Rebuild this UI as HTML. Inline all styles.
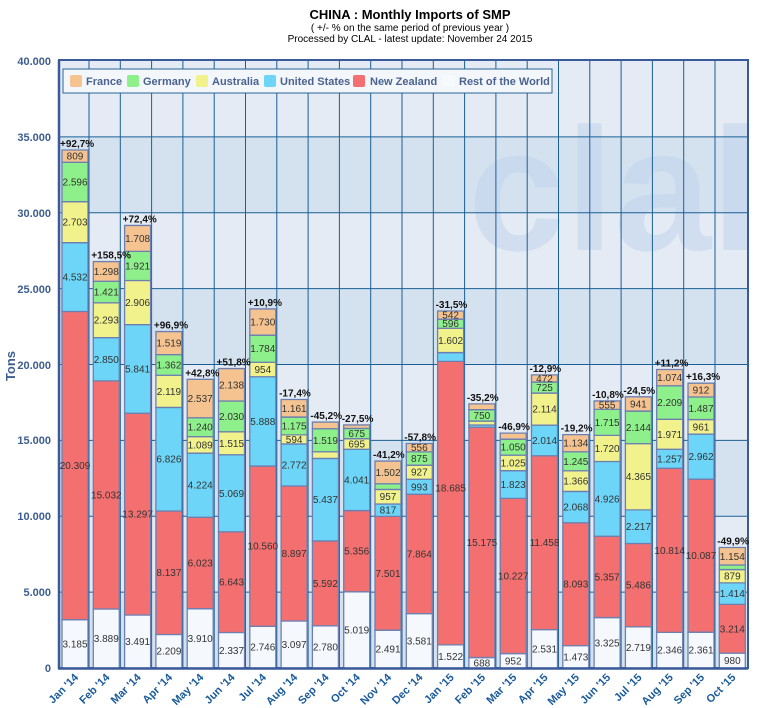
<!DOCTYPE html>
<html><head><meta charset="utf-8"><style>
html,body{margin:0;padding:0;background:#fff;width:760px;height:708px;overflow:hidden}
svg{display:block;font-family:"Liberation Sans",sans-serif}
.v{font-size:10px;fill:#333;text-anchor:middle}
.p{font-size:10px;font-weight:bold;fill:#111}
.yl{font-size:11px;font-weight:bold;fill:#3d5c8f;text-anchor:end}
.xl{font-size:11px;font-weight:bold;fill:#1a5a9a;text-anchor:end}
.lg{font-size:11px;font-weight:bold;fill:#4a6390}
</style></head><body>
<svg width="760" height="708" viewBox="0 0 760 708">
<defs><clipPath id="pc"><rect x="59" y="61" width="689" height="607"/></clipPath></defs>
<text x="410" y="19" text-anchor="middle" font-size="13" font-weight="bold" fill="#000">CHINA : Monthly Imports of SMP</text>
<text x="410" y="31" text-anchor="middle" font-size="10" fill="#000">( +/- % on the same period of previous year )</text>
<text x="410" y="42" text-anchor="middle" font-size="10" fill="#000">Processed by CLAL - latest update: November 24 2015</text>

<rect x="59" y="61" width="689" height="607" fill="#e4ebf5"/>
<rect x="59" y="136.9" width="689" height="75.9" fill="#d4e2f0"/>
<rect x="59" y="288.6" width="689" height="75.9" fill="#d4e2f0"/>
<rect x="59" y="440.4" width="689" height="75.9" fill="#d4e2f0"/>
<rect x="59" y="592.1" width="689" height="75.9" fill="#d4e2f0"/>
<g clip-path="url(#pc)"><text x="468" y="250" font-size="175" font-weight="bold" fill="#c5d6ee" opacity="0.6">clal</text></g>
<g stroke="#1a5f96" stroke-width="1">
<line x1="59" x2="748" y1="592.1" y2="592.1"/><line x1="59" x2="748" y1="516.3" y2="516.3"/>
<line x1="59" x2="748" y1="440.4" y2="440.4"/><line x1="59" x2="748" y1="364.5" y2="364.5"/>
<line x1="59" x2="748" y1="288.6" y2="288.6"/><line x1="59" x2="748" y1="212.8" y2="212.8"/>
<line x1="59" x2="748" y1="136.9" y2="136.9"/>
<line x1="89" x2="89" y1="61" y2="668"/><line x1="120.3" x2="120.3" y1="61" y2="668"/><line x1="151.6" x2="151.6" y1="61" y2="668"/><line x1="182.9" x2="182.9" y1="61" y2="668"/><line x1="214.2" x2="214.2" y1="61" y2="668"/><line x1="245.5" x2="245.5" y1="61" y2="668"/><line x1="276.8" x2="276.8" y1="61" y2="668"/><line x1="308.1" x2="308.1" y1="61" y2="668"/><line x1="339.4" x2="339.4" y1="61" y2="668"/><line x1="370.7" x2="370.7" y1="61" y2="668"/><line x1="402" x2="402" y1="61" y2="668"/><line x1="433.3" x2="433.3" y1="61" y2="668"/><line x1="464.6" x2="464.6" y1="61" y2="668"/><line x1="495.9" x2="495.9" y1="61" y2="668"/><line x1="527.2" x2="527.2" y1="61" y2="668"/><line x1="558.5" x2="558.5" y1="61" y2="668"/><line x1="589.8" x2="589.8" y1="61" y2="668"/><line x1="621.1" x2="621.1" y1="61" y2="668"/><line x1="652.4" x2="652.4" y1="61" y2="668"/><line x1="683.7" x2="683.7" y1="61" y2="668"/><line x1="715" x2="715" y1="61" y2="668"/>
</g>
<rect x="59" y="60" width="689" height="608" fill="none" stroke="#3a5a9a" stroke-width="2"/>

<rect x="63" y="69" width="489" height="24" fill="#f3f6fa" stroke="#2a6496" stroke-width="1"/>
<rect x="70" y="75" width="12" height="12" rx="2" fill="#f5c38f"/><text class="lg" x="86" y="85">France</text>
<rect x="127" y="75" width="12" height="12" rx="2" fill="#8ef08a"/><text class="lg" x="143" y="85">Germany</text>
<rect x="196" y="75" width="12" height="12" rx="2" fill="#f2f28c"/><text class="lg" x="212" y="85">Australia</text>
<rect x="264" y="75" width="12" height="12" rx="2" fill="#6dd5f7"/><text class="lg" x="280" y="85">United States</text>
<rect x="353" y="75" width="12" height="12" rx="2" fill="#f47070"/><text class="lg" x="370" y="85">New Zealand</text>
<rect x="443" y="75" width="12" height="12" rx="2" fill="#f7fafd"/><text class="lg" x="459" y="85">Rest of the World</text>

<g transform="translate(0,668) scale(1,-0.015175)">
<g stroke="#6d7fb0" stroke-width="1.3">
<rect x="62" y="0" width="26" height="3185" fill="#f5f9fd" vector-effect="non-scaling-stroke"/>
<rect x="62" y="3185" width="26" height="20309" fill="#f47070" vector-effect="non-scaling-stroke"/>
<rect x="62" y="23494" width="26" height="4532" fill="#6dd5f7" vector-effect="non-scaling-stroke"/>
<rect x="62" y="28026" width="26" height="2703" fill="#f2f28c" vector-effect="non-scaling-stroke"/>
<rect x="62" y="30729" width="26" height="2596" fill="#8ef08a" vector-effect="non-scaling-stroke"/>
<rect x="62" y="33325" width="26" height="809" fill="#f5c38f" vector-effect="non-scaling-stroke"/>
<rect x="93.3" y="0" width="26" height="3889" fill="#f5f9fd" vector-effect="non-scaling-stroke"/>
<rect x="93.3" y="3889" width="26" height="15032" fill="#f47070" vector-effect="non-scaling-stroke"/>
<rect x="93.3" y="18921" width="26" height="2850" fill="#6dd5f7" vector-effect="non-scaling-stroke"/>
<rect x="93.3" y="21771" width="26" height="2293" fill="#f2f28c" vector-effect="non-scaling-stroke"/>
<rect x="93.3" y="24064" width="26" height="1421" fill="#8ef08a" vector-effect="non-scaling-stroke"/>
<rect x="93.3" y="25485" width="26" height="1298" fill="#f5c38f" vector-effect="non-scaling-stroke"/>
<rect x="124.6" y="0" width="26" height="3491" fill="#f5f9fd" vector-effect="non-scaling-stroke"/>
<rect x="124.6" y="3491" width="26" height="13297" fill="#f47070" vector-effect="non-scaling-stroke"/>
<rect x="124.6" y="16788" width="26" height="5841" fill="#6dd5f7" vector-effect="non-scaling-stroke"/>
<rect x="124.6" y="22629" width="26" height="2906" fill="#f2f28c" vector-effect="non-scaling-stroke"/>
<rect x="124.6" y="25535" width="26" height="1921" fill="#8ef08a" vector-effect="non-scaling-stroke"/>
<rect x="124.6" y="27456" width="26" height="1708" fill="#f5c38f" vector-effect="non-scaling-stroke"/>
<rect x="155.9" y="0" width="26" height="2209" fill="#f5f9fd" vector-effect="non-scaling-stroke"/>
<rect x="155.9" y="2209" width="26" height="8137" fill="#f47070" vector-effect="non-scaling-stroke"/>
<rect x="155.9" y="10346" width="26" height="6826" fill="#6dd5f7" vector-effect="non-scaling-stroke"/>
<rect x="155.9" y="17172" width="26" height="2119" fill="#f2f28c" vector-effect="non-scaling-stroke"/>
<rect x="155.9" y="19291" width="26" height="1362" fill="#8ef08a" vector-effect="non-scaling-stroke"/>
<rect x="155.9" y="20653" width="26" height="1519" fill="#f5c38f" vector-effect="non-scaling-stroke"/>
<rect x="187.2" y="0" width="26" height="3910" fill="#f5f9fd" vector-effect="non-scaling-stroke"/>
<rect x="187.2" y="3910" width="26" height="6023" fill="#f47070" vector-effect="non-scaling-stroke"/>
<rect x="187.2" y="9933" width="26" height="4224" fill="#6dd5f7" vector-effect="non-scaling-stroke"/>
<rect x="187.2" y="14157" width="26" height="1089" fill="#f2f28c" vector-effect="non-scaling-stroke"/>
<rect x="187.2" y="15246" width="26" height="1240" fill="#8ef08a" vector-effect="non-scaling-stroke"/>
<rect x="187.2" y="16486" width="26" height="2537" fill="#f5c38f" vector-effect="non-scaling-stroke"/>
<rect x="218.5" y="0" width="26" height="2337" fill="#f5f9fd" vector-effect="non-scaling-stroke"/>
<rect x="218.5" y="2337" width="26" height="6643" fill="#f47070" vector-effect="non-scaling-stroke"/>
<rect x="218.5" y="8980" width="26" height="5069" fill="#6dd5f7" vector-effect="non-scaling-stroke"/>
<rect x="218.5" y="14049" width="26" height="1515" fill="#f2f28c" vector-effect="non-scaling-stroke"/>
<rect x="218.5" y="15564" width="26" height="2030" fill="#8ef08a" vector-effect="non-scaling-stroke"/>
<rect x="218.5" y="17594" width="26" height="2138" fill="#f5c38f" vector-effect="non-scaling-stroke"/>
<rect x="249.8" y="0" width="26" height="2746" fill="#f5f9fd" vector-effect="non-scaling-stroke"/>
<rect x="249.8" y="2746" width="26" height="10560" fill="#f47070" vector-effect="non-scaling-stroke"/>
<rect x="249.8" y="13306" width="26" height="5888" fill="#6dd5f7" vector-effect="non-scaling-stroke"/>
<rect x="249.8" y="19194" width="26" height="954" fill="#f2f28c" vector-effect="non-scaling-stroke"/>
<rect x="249.8" y="20148" width="26" height="1784" fill="#8ef08a" vector-effect="non-scaling-stroke"/>
<rect x="249.8" y="21932" width="26" height="1730" fill="#f5c38f" vector-effect="non-scaling-stroke"/>
<rect x="281.1" y="0" width="26" height="3097" fill="#f5f9fd" vector-effect="non-scaling-stroke"/>
<rect x="281.1" y="3097" width="26" height="8897" fill="#f47070" vector-effect="non-scaling-stroke"/>
<rect x="281.1" y="11994" width="26" height="2772" fill="#6dd5f7" vector-effect="non-scaling-stroke"/>
<rect x="281.1" y="14766" width="26" height="594" fill="#f2f28c" vector-effect="non-scaling-stroke"/>
<rect x="281.1" y="15360" width="26" height="1175" fill="#8ef08a" vector-effect="non-scaling-stroke"/>
<rect x="281.1" y="16535" width="26" height="1161" fill="#f5c38f" vector-effect="non-scaling-stroke"/>
<rect x="312.4" y="0" width="26" height="2780" fill="#f5f9fd" vector-effect="non-scaling-stroke"/>
<rect x="312.4" y="2780" width="26" height="5592" fill="#f47070" vector-effect="non-scaling-stroke"/>
<rect x="312.4" y="8372" width="26" height="5437" fill="#6dd5f7" vector-effect="non-scaling-stroke"/>
<rect x="312.4" y="13809" width="26" height="440" fill="#f2f28c" vector-effect="non-scaling-stroke"/>
<rect x="312.4" y="14249" width="26" height="1519" fill="#8ef08a" vector-effect="non-scaling-stroke"/>
<rect x="312.4" y="15768" width="26" height="440" fill="#f5c38f" vector-effect="non-scaling-stroke"/>
<rect x="343.7" y="0" width="26" height="5019" fill="#f5f9fd" vector-effect="non-scaling-stroke"/>
<rect x="343.7" y="5019" width="26" height="5356" fill="#f47070" vector-effect="non-scaling-stroke"/>
<rect x="343.7" y="10375" width="26" height="4041" fill="#6dd5f7" vector-effect="non-scaling-stroke"/>
<rect x="343.7" y="14416" width="26" height="695" fill="#f2f28c" vector-effect="non-scaling-stroke"/>
<rect x="343.7" y="15111" width="26" height="675" fill="#8ef08a" vector-effect="non-scaling-stroke"/>
<rect x="343.7" y="15786" width="26" height="230" fill="#f5c38f" vector-effect="non-scaling-stroke"/>
<rect x="375" y="0" width="26" height="2491" fill="#f5f9fd" vector-effect="non-scaling-stroke"/>
<rect x="375" y="2491" width="26" height="7501" fill="#f47070" vector-effect="non-scaling-stroke"/>
<rect x="375" y="9992" width="26" height="817" fill="#6dd5f7" vector-effect="non-scaling-stroke"/>
<rect x="375" y="10809" width="26" height="957" fill="#f2f28c" vector-effect="non-scaling-stroke"/>
<rect x="375" y="11766" width="26" height="370" fill="#8ef08a" vector-effect="non-scaling-stroke"/>
<rect x="375" y="12136" width="26" height="1502" fill="#f5c38f" vector-effect="non-scaling-stroke"/>
<rect x="406.3" y="0" width="26" height="3581" fill="#f5f9fd" vector-effect="non-scaling-stroke"/>
<rect x="406.3" y="3581" width="26" height="7864" fill="#f47070" vector-effect="non-scaling-stroke"/>
<rect x="406.3" y="11445" width="26" height="993" fill="#6dd5f7" vector-effect="non-scaling-stroke"/>
<rect x="406.3" y="12438" width="26" height="927" fill="#f2f28c" vector-effect="non-scaling-stroke"/>
<rect x="406.3" y="13365" width="26" height="875" fill="#8ef08a" vector-effect="non-scaling-stroke"/>
<rect x="406.3" y="14240" width="26" height="556" fill="#f5c38f" vector-effect="non-scaling-stroke"/>
<rect x="437.6" y="0" width="26" height="1522" fill="#f5f9fd" vector-effect="non-scaling-stroke"/>
<rect x="437.6" y="1522" width="26" height="18685" fill="#f47070" vector-effect="non-scaling-stroke"/>
<rect x="437.6" y="20207" width="26" height="580" fill="#6dd5f7" vector-effect="non-scaling-stroke"/>
<rect x="437.6" y="20787" width="26" height="1602" fill="#f2f28c" vector-effect="non-scaling-stroke"/>
<rect x="437.6" y="22389" width="26" height="596" fill="#8ef08a" vector-effect="non-scaling-stroke"/>
<rect x="437.6" y="22985" width="26" height="542" fill="#f5c38f" vector-effect="non-scaling-stroke"/>
<rect x="468.9" y="0" width="26" height="688" fill="#f5f9fd" vector-effect="non-scaling-stroke"/>
<rect x="468.9" y="688" width="26" height="15175" fill="#f47070" vector-effect="non-scaling-stroke"/>
<rect x="468.9" y="15863" width="26" height="150" fill="#6dd5f7" vector-effect="non-scaling-stroke"/>
<rect x="468.9" y="16013" width="26" height="260" fill="#f2f28c" vector-effect="non-scaling-stroke"/>
<rect x="468.9" y="16273" width="26" height="750" fill="#8ef08a" vector-effect="non-scaling-stroke"/>
<rect x="468.9" y="17023" width="26" height="380" fill="#f5c38f" vector-effect="non-scaling-stroke"/>
<rect x="500.2" y="0" width="26" height="952" fill="#f5f9fd" vector-effect="non-scaling-stroke"/>
<rect x="500.2" y="952" width="26" height="10227" fill="#f47070" vector-effect="non-scaling-stroke"/>
<rect x="500.2" y="11179" width="26" height="1823" fill="#6dd5f7" vector-effect="non-scaling-stroke"/>
<rect x="500.2" y="13002" width="26" height="1025" fill="#f2f28c" vector-effect="non-scaling-stroke"/>
<rect x="500.2" y="14027" width="26" height="1050" fill="#8ef08a" vector-effect="non-scaling-stroke"/>
<rect x="500.2" y="15077" width="26" height="400" fill="#f5c38f" vector-effect="non-scaling-stroke"/>
<rect x="531.5" y="0" width="26" height="2531" fill="#f5f9fd" vector-effect="non-scaling-stroke"/>
<rect x="531.5" y="2531" width="26" height="11458" fill="#f47070" vector-effect="non-scaling-stroke"/>
<rect x="531.5" y="13989" width="26" height="2014" fill="#6dd5f7" vector-effect="non-scaling-stroke"/>
<rect x="531.5" y="16003" width="26" height="2114" fill="#f2f28c" vector-effect="non-scaling-stroke"/>
<rect x="531.5" y="18117" width="26" height="725" fill="#8ef08a" vector-effect="non-scaling-stroke"/>
<rect x="531.5" y="18842" width="26" height="472" fill="#f5c38f" vector-effect="non-scaling-stroke"/>
<rect x="562.8" y="0" width="26" height="1473" fill="#f5f9fd" vector-effect="non-scaling-stroke"/>
<rect x="562.8" y="1473" width="26" height="8093" fill="#f47070" vector-effect="non-scaling-stroke"/>
<rect x="562.8" y="9566" width="26" height="2068" fill="#6dd5f7" vector-effect="non-scaling-stroke"/>
<rect x="562.8" y="11634" width="26" height="1366" fill="#f2f28c" vector-effect="non-scaling-stroke"/>
<rect x="562.8" y="13000" width="26" height="1245" fill="#8ef08a" vector-effect="non-scaling-stroke"/>
<rect x="562.8" y="14245" width="26" height="1134" fill="#f5c38f" vector-effect="non-scaling-stroke"/>
<rect x="594.1" y="0" width="26" height="3325" fill="#f5f9fd" vector-effect="non-scaling-stroke"/>
<rect x="594.1" y="3325" width="26" height="5357" fill="#f47070" vector-effect="non-scaling-stroke"/>
<rect x="594.1" y="8682" width="26" height="4926" fill="#6dd5f7" vector-effect="non-scaling-stroke"/>
<rect x="594.1" y="13608" width="26" height="1720" fill="#f2f28c" vector-effect="non-scaling-stroke"/>
<rect x="594.1" y="15328" width="26" height="1715" fill="#8ef08a" vector-effect="non-scaling-stroke"/>
<rect x="594.1" y="17043" width="26" height="555" fill="#f5c38f" vector-effect="non-scaling-stroke"/>
<rect x="625.4" y="0" width="26" height="2719" fill="#f5f9fd" vector-effect="non-scaling-stroke"/>
<rect x="625.4" y="2719" width="26" height="5486" fill="#f47070" vector-effect="non-scaling-stroke"/>
<rect x="625.4" y="8205" width="26" height="2217" fill="#6dd5f7" vector-effect="non-scaling-stroke"/>
<rect x="625.4" y="10422" width="26" height="4365" fill="#f2f28c" vector-effect="non-scaling-stroke"/>
<rect x="625.4" y="14787" width="26" height="2144" fill="#8ef08a" vector-effect="non-scaling-stroke"/>
<rect x="625.4" y="16931" width="26" height="941" fill="#f5c38f" vector-effect="non-scaling-stroke"/>
<rect x="656.7" y="0" width="26" height="2346" fill="#f5f9fd" vector-effect="non-scaling-stroke"/>
<rect x="656.7" y="2346" width="26" height="10814" fill="#f47070" vector-effect="non-scaling-stroke"/>
<rect x="656.7" y="13160" width="26" height="1257" fill="#6dd5f7" vector-effect="non-scaling-stroke"/>
<rect x="656.7" y="14417" width="26" height="1971" fill="#f2f28c" vector-effect="non-scaling-stroke"/>
<rect x="656.7" y="16388" width="26" height="2209" fill="#8ef08a" vector-effect="non-scaling-stroke"/>
<rect x="656.7" y="18597" width="26" height="1074" fill="#f5c38f" vector-effect="non-scaling-stroke"/>
<rect x="688" y="0" width="26" height="2361" fill="#f5f9fd" vector-effect="non-scaling-stroke"/>
<rect x="688" y="2361" width="26" height="10087" fill="#f47070" vector-effect="non-scaling-stroke"/>
<rect x="688" y="12448" width="26" height="2962" fill="#6dd5f7" vector-effect="non-scaling-stroke"/>
<rect x="688" y="15410" width="26" height="961" fill="#f2f28c" vector-effect="non-scaling-stroke"/>
<rect x="688" y="16371" width="26" height="1487" fill="#8ef08a" vector-effect="non-scaling-stroke"/>
<rect x="688" y="17858" width="26" height="912" fill="#f5c38f" vector-effect="non-scaling-stroke"/>
<rect x="719.3" y="0" width="26" height="980" fill="#f5f9fd" vector-effect="non-scaling-stroke"/>
<rect x="719.3" y="980" width="26" height="3214" fill="#f47070" vector-effect="non-scaling-stroke"/>
<rect x="719.3" y="4194" width="26" height="1414" fill="#6dd5f7" vector-effect="non-scaling-stroke"/>
<rect x="719.3" y="5608" width="26" height="879" fill="#f2f28c" vector-effect="non-scaling-stroke"/>
<rect x="719.3" y="6487" width="26" height="300" fill="#8ef08a" vector-effect="non-scaling-stroke"/>
<rect x="719.3" y="6787" width="26" height="1154" fill="#f5c38f" vector-effect="non-scaling-stroke"/>
</g>

<g class="v">
<text transform="translate(75,1593) scale(1,-65.898)" y="3.5">3.185</text>
<text transform="translate(75,13340) scale(1,-65.898)" y="3.5">20.309</text>
<text transform="translate(75,25760) scale(1,-65.898)" y="3.5">4.532</text>
<text transform="translate(75,29378) scale(1,-65.898)" y="3.5">2.703</text>
<text transform="translate(75,32027) scale(1,-65.898)" y="3.5">2.596</text>
<text transform="translate(75,33730) scale(1,-65.898)" y="3.5">809</text>
<text transform="translate(106.3,1945) scale(1,-65.898)" y="3.5">3.889</text>
<text transform="translate(106.3,11405) scale(1,-65.898)" y="3.5">15.032</text>
<text transform="translate(106.3,20346) scale(1,-65.898)" y="3.5">2.850</text>
<text transform="translate(106.3,22918) scale(1,-65.898)" y="3.5">2.293</text>
<text transform="translate(106.3,24775) scale(1,-65.898)" y="3.5">1.421</text>
<text transform="translate(106.3,26134) scale(1,-65.898)" y="3.5">1.298</text>
<text transform="translate(137.6,1746) scale(1,-65.898)" y="3.5">3.491</text>
<text transform="translate(137.6,10140) scale(1,-65.898)" y="3.5">13.297</text>
<text transform="translate(137.6,19709) scale(1,-65.898)" y="3.5">5.841</text>
<text transform="translate(137.6,24082) scale(1,-65.898)" y="3.5">2.906</text>
<text transform="translate(137.6,26496) scale(1,-65.898)" y="3.5">1.921</text>
<text transform="translate(137.6,28310) scale(1,-65.898)" y="3.5">1.708</text>
<text transform="translate(168.9,1105) scale(1,-65.898)" y="3.5">2.209</text>
<text transform="translate(168.9,6278) scale(1,-65.898)" y="3.5">8.137</text>
<text transform="translate(168.9,13759) scale(1,-65.898)" y="3.5">6.826</text>
<text transform="translate(168.9,18232) scale(1,-65.898)" y="3.5">2.119</text>
<text transform="translate(168.9,19972) scale(1,-65.898)" y="3.5">1.362</text>
<text transform="translate(168.9,21413) scale(1,-65.898)" y="3.5">1.519</text>
<text transform="translate(200.2,1955) scale(1,-65.898)" y="3.5">3.910</text>
<text transform="translate(200.2,6922) scale(1,-65.898)" y="3.5">6.023</text>
<text transform="translate(200.2,12045) scale(1,-65.898)" y="3.5">4.224</text>
<text transform="translate(200.2,14702) scale(1,-65.898)" y="3.5">1.089</text>
<text transform="translate(200.2,15866) scale(1,-65.898)" y="3.5">1.240</text>
<text transform="translate(200.2,17755) scale(1,-65.898)" y="3.5">2.537</text>
<text transform="translate(231.5,1169) scale(1,-65.898)" y="3.5">2.337</text>
<text transform="translate(231.5,5659) scale(1,-65.898)" y="3.5">6.643</text>
<text transform="translate(231.5,11515) scale(1,-65.898)" y="3.5">5.069</text>
<text transform="translate(231.5,14807) scale(1,-65.898)" y="3.5">1.515</text>
<text transform="translate(231.5,16579) scale(1,-65.898)" y="3.5">2.030</text>
<text transform="translate(231.5,18663) scale(1,-65.898)" y="3.5">2.138</text>
<text transform="translate(262.8,1373) scale(1,-65.898)" y="3.5">2.746</text>
<text transform="translate(262.8,8026) scale(1,-65.898)" y="3.5">10.560</text>
<text transform="translate(262.8,16250) scale(1,-65.898)" y="3.5">5.888</text>
<text transform="translate(262.8,19671) scale(1,-65.898)" y="3.5">954</text>
<text transform="translate(262.8,21040) scale(1,-65.898)" y="3.5">1.784</text>
<text transform="translate(262.8,22797) scale(1,-65.898)" y="3.5">1.730</text>
<text transform="translate(294.1,1549) scale(1,-65.898)" y="3.5">3.097</text>
<text transform="translate(294.1,7546) scale(1,-65.898)" y="3.5">8.897</text>
<text transform="translate(294.1,13380) scale(1,-65.898)" y="3.5">2.772</text>
<text transform="translate(294.1,15063) scale(1,-65.898)" y="3.5">594</text>
<text transform="translate(294.1,15948) scale(1,-65.898)" y="3.5">1.175</text>
<text transform="translate(294.1,17116) scale(1,-65.898)" y="3.5">1.161</text>
<text transform="translate(325.4,1390) scale(1,-65.898)" y="3.5">2.780</text>
<text transform="translate(325.4,5576) scale(1,-65.898)" y="3.5">5.592</text>
<text transform="translate(325.4,11091) scale(1,-65.898)" y="3.5">5.437</text>
<text transform="translate(325.4,15009) scale(1,-65.898)" y="3.5">1.519</text>
<text transform="translate(356.7,2510) scale(1,-65.898)" y="3.5">5.019</text>
<text transform="translate(356.7,7697) scale(1,-65.898)" y="3.5">5.356</text>
<text transform="translate(356.7,12396) scale(1,-65.898)" y="3.5">4.041</text>
<text transform="translate(356.7,14764) scale(1,-65.898)" y="3.5">695</text>
<text transform="translate(356.7,15449) scale(1,-65.898)" y="3.5">675</text>
<text transform="translate(388,1246) scale(1,-65.898)" y="3.5">2.491</text>
<text transform="translate(388,6242) scale(1,-65.898)" y="3.5">7.501</text>
<text transform="translate(388,10401) scale(1,-65.898)" y="3.5">817</text>
<text transform="translate(388,11288) scale(1,-65.898)" y="3.5">957</text>
<text transform="translate(388,12887) scale(1,-65.898)" y="3.5">1.502</text>
<text transform="translate(419.3,1791) scale(1,-65.898)" y="3.5">3.581</text>
<text transform="translate(419.3,7513) scale(1,-65.898)" y="3.5">7.864</text>
<text transform="translate(419.3,11942) scale(1,-65.898)" y="3.5">993</text>
<text transform="translate(419.3,12902) scale(1,-65.898)" y="3.5">927</text>
<text transform="translate(419.3,13803) scale(1,-65.898)" y="3.5">875</text>
<text transform="translate(419.3,14518) scale(1,-65.898)" y="3.5">556</text>
<text transform="translate(450.6,761) scale(1,-65.898)" y="3.5">1.522</text>
<text transform="translate(450.6,11865) scale(1,-65.898)" y="3.5">18.685</text>
<text transform="translate(450.6,21588) scale(1,-65.898)" y="3.5">1.602</text>
<text transform="translate(450.6,22687) scale(1,-65.898)" y="3.5">596</text>
<text transform="translate(450.6,23256) scale(1,-65.898)" y="3.5">542</text>
<text transform="translate(481.9,344) scale(1,-65.898)" y="3.5">688</text>
<text transform="translate(481.9,8276) scale(1,-65.898)" y="3.5">15.175</text>
<text transform="translate(481.9,16648) scale(1,-65.898)" y="3.5">750</text>
<text transform="translate(513.2,476) scale(1,-65.898)" y="3.5">952</text>
<text transform="translate(513.2,6066) scale(1,-65.898)" y="3.5">10.227</text>
<text transform="translate(513.2,12091) scale(1,-65.898)" y="3.5">1.823</text>
<text transform="translate(513.2,13515) scale(1,-65.898)" y="3.5">1.025</text>
<text transform="translate(513.2,14552) scale(1,-65.898)" y="3.5">1.050</text>
<text transform="translate(544.5,1266) scale(1,-65.898)" y="3.5">2.531</text>
<text transform="translate(544.5,8260) scale(1,-65.898)" y="3.5">11.458</text>
<text transform="translate(544.5,14996) scale(1,-65.898)" y="3.5">2.014</text>
<text transform="translate(544.5,17060) scale(1,-65.898)" y="3.5">2.114</text>
<text transform="translate(544.5,18480) scale(1,-65.898)" y="3.5">725</text>
<text transform="translate(544.5,19078) scale(1,-65.898)" y="3.5">472</text>
<text transform="translate(575.8,737) scale(1,-65.898)" y="3.5">1.473</text>
<text transform="translate(575.8,5520) scale(1,-65.898)" y="3.5">8.093</text>
<text transform="translate(575.8,10600) scale(1,-65.898)" y="3.5">2.068</text>
<text transform="translate(575.8,12317) scale(1,-65.898)" y="3.5">1.366</text>
<text transform="translate(575.8,13623) scale(1,-65.898)" y="3.5">1.245</text>
<text transform="translate(575.8,14812) scale(1,-65.898)" y="3.5">1.134</text>
<text transform="translate(607.1,1663) scale(1,-65.898)" y="3.5">3.325</text>
<text transform="translate(607.1,6004) scale(1,-65.898)" y="3.5">5.357</text>
<text transform="translate(607.1,11145) scale(1,-65.898)" y="3.5">4.926</text>
<text transform="translate(607.1,14468) scale(1,-65.898)" y="3.5">1.720</text>
<text transform="translate(607.1,16186) scale(1,-65.898)" y="3.5">1.715</text>
<text transform="translate(607.1,17321) scale(1,-65.898)" y="3.5">555</text>
<text transform="translate(638.4,1360) scale(1,-65.898)" y="3.5">2.719</text>
<text transform="translate(638.4,5462) scale(1,-65.898)" y="3.5">5.486</text>
<text transform="translate(638.4,9314) scale(1,-65.898)" y="3.5">2.217</text>
<text transform="translate(638.4,12605) scale(1,-65.898)" y="3.5">4.365</text>
<text transform="translate(638.4,15859) scale(1,-65.898)" y="3.5">2.144</text>
<text transform="translate(638.4,17402) scale(1,-65.898)" y="3.5">941</text>
<text transform="translate(669.7,1173) scale(1,-65.898)" y="3.5">2.346</text>
<text transform="translate(669.7,7753) scale(1,-65.898)" y="3.5">10.814</text>
<text transform="translate(669.7,13789) scale(1,-65.898)" y="3.5">1.257</text>
<text transform="translate(669.7,15403) scale(1,-65.898)" y="3.5">1.971</text>
<text transform="translate(669.7,17493) scale(1,-65.898)" y="3.5">2.209</text>
<text transform="translate(669.7,19134) scale(1,-65.898)" y="3.5">1.074</text>
<text transform="translate(701,1181) scale(1,-65.898)" y="3.5">2.361</text>
<text transform="translate(701,7405) scale(1,-65.898)" y="3.5">10.087</text>
<text transform="translate(701,13929) scale(1,-65.898)" y="3.5">2.962</text>
<text transform="translate(701,15891) scale(1,-65.898)" y="3.5">961</text>
<text transform="translate(701,17115) scale(1,-65.898)" y="3.5">1.487</text>
<text transform="translate(701,18314) scale(1,-65.898)" y="3.5">912</text>
<text transform="translate(732.3,490) scale(1,-65.898)" y="3.5">980</text>
<text transform="translate(732.3,2587) scale(1,-65.898)" y="3.5">3.214</text>
<text transform="translate(732.3,4901) scale(1,-65.898)" y="3.5">1.414</text>
<text transform="translate(732.3,6048) scale(1,-65.898)" y="3.5">879</text>
<text transform="translate(732.3,7364) scale(1,-65.898)" y="3.5">1.154</text>
</g>

<g class="p">
<text transform="translate(60,34134) scale(1,-65.898)" y="-3">+92,7%</text>
<text transform="translate(91.3,26783) scale(1,-65.898)" y="-3">+158,5%</text>
<text transform="translate(122.6,29164) scale(1,-65.898)" y="-3">+72,4%</text>
<text transform="translate(153.9,22172) scale(1,-65.898)" y="-3">+96,9%</text>
<text transform="translate(185.2,19023) scale(1,-65.898)" y="-3">+42,8%</text>
<text transform="translate(216.5,19732) scale(1,-65.898)" y="-3">+51,8%</text>
<text transform="translate(247.8,23662) scale(1,-65.898)" y="-3">+10,9%</text>
<text transform="translate(279.1,17696) scale(1,-65.898)" y="-3">-17,4%</text>
<text transform="translate(310.4,16208) scale(1,-65.898)" y="-3">-45,2%</text>
<text transform="translate(341.7,16016) scale(1,-65.898)" y="-3">-27,5%</text>
<text transform="translate(373,13638) scale(1,-65.898)" y="-3">-41,2%</text>
<text transform="translate(404.3,14796) scale(1,-65.898)" y="-3">-57,8%</text>
<text transform="translate(435.6,23527) scale(1,-65.898)" y="-3">-31,5%</text>
<text transform="translate(466.9,17403) scale(1,-65.898)" y="-3">-35,2%</text>
<text transform="translate(498.2,15477) scale(1,-65.898)" y="-3">-46,9%</text>
<text transform="translate(529.5,19314) scale(1,-65.898)" y="-3">-12,9%</text>
<text transform="translate(560.8,15379) scale(1,-65.898)" y="-3">-19,2%</text>
<text transform="translate(592.1,17598) scale(1,-65.898)" y="-3">-10,8%</text>
<text transform="translate(623.4,17872) scale(1,-65.898)" y="-3">-24,5%</text>
<text transform="translate(654.7,19671) scale(1,-65.898)" y="-3">+11,2%</text>
<text transform="translate(686,18770) scale(1,-65.898)" y="-3">+16,3%</text>
<text transform="translate(717.3,7941) scale(1,-65.898)" y="-3">-49,9%</text>
</g>
</g>

<line x1="59" y1="60" x2="59" y2="669" stroke="#3a5a9a" stroke-width="2.5"/>
<line x1="58" y1="668.5" x2="748" y2="668.5" stroke="#3a5a9a" stroke-width="2.5"/>
<g class="yl">
<text x="51" y="672">0</text><text x="51" y="596">5.000</text><text x="51" y="520">10.000</text>
<text x="51" y="444">15.000</text><text x="51" y="369">20.000</text><text x="51" y="293">25.000</text>
<text x="51" y="217">30.000</text><text x="51" y="141">35.000</text><text x="51" y="65">40.000</text>
</g>
<text transform="translate(15,366) rotate(-90)" text-anchor="middle" font-size="13" font-weight="bold" fill="#3d5c8f">Tons</text>
<g class="xl">
<text transform="translate(79,678) rotate(-45)">Jan '14</text>
<text transform="translate(110.3,678) rotate(-45)">Feb '14</text>
<text transform="translate(141.6,678) rotate(-45)">Mar '14</text>
<text transform="translate(172.9,678) rotate(-45)">Apr '14</text>
<text transform="translate(204.2,678) rotate(-45)">May '14</text>
<text transform="translate(235.5,678) rotate(-45)">Jun '14</text>
<text transform="translate(266.8,678) rotate(-45)">Jul '14</text>
<text transform="translate(298.1,678) rotate(-45)">Aug '14</text>
<text transform="translate(329.4,678) rotate(-45)">Sep '14</text>
<text transform="translate(360.7,678) rotate(-45)">Oct '14</text>
<text transform="translate(392,678) rotate(-45)">Nov '14</text>
<text transform="translate(423.3,678) rotate(-45)">Dec '14</text>
<text transform="translate(454.6,678) rotate(-45)">Jan '15</text>
<text transform="translate(485.9,678) rotate(-45)">Feb '15</text>
<text transform="translate(517.2,678) rotate(-45)">Mar '15</text>
<text transform="translate(548.5,678) rotate(-45)">Apr '15</text>
<text transform="translate(579.8,678) rotate(-45)">May '15</text>
<text transform="translate(611.1,678) rotate(-45)">Jun '15</text>
<text transform="translate(642.4,678) rotate(-45)">Jul '15</text>
<text transform="translate(673.7,678) rotate(-45)">Aug '15</text>
<text transform="translate(705,678) rotate(-45)">Sep '15</text>
<text transform="translate(736.3,678) rotate(-45)">Oct '15</text>
</g>
</svg>
</body></html>
